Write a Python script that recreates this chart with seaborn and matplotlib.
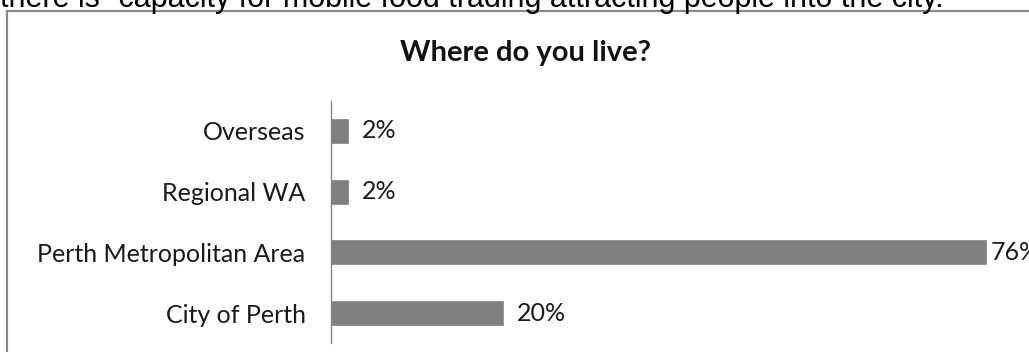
import matplotlib
matplotlib.use("Agg")
import matplotlib.pyplot as plt
from matplotlib.lines import Line2D
import seaborn as sns
import pandas as pd

# Survey responses: place of residence
categories = ["Overseas", "Regional WA", "Perth Metropolitan Area", "City of Perth"]
percentages = [2, 2, 76, 20]
title = "Where do you live?"
caption = "there is \u201ccapacity for mobile food trading attracting people into the city."

df = pd.DataFrame({"place": categories, "pct": percentages})

sns.set_theme(style="white")
plt.rcParams["font.family"] = ["Lato", "DejaVu Sans"]

W, H, DPI = 1029, 352, 100
fig = plt.figure(figsize=(W / DPI, H / DPI), dpi=DPI)
fig.patch.set_facecolor("white")

left_px, right_px = 330.5, 1029
top_px, bottom_px = 100.6, 343.4
ax = fig.add_axes([left_px / W, 1 - bottom_px / H,
                   (right_px - left_px) / W, (bottom_px - top_px) / H])

sns.barplot(data=df, x="pct", y="place", order=categories, orient="h",
            color="#808080", width=0.4, edgecolor="#8c8c8c", linewidth=0.6,
            saturation=1, ax=ax)

px_per_unit = 8.62
ax.set_xlim(0, (right_px - left_px) / px_per_unit)
ax.set_xlabel("")
ax.set_ylabel("")
ax.set_xticks([])
ax.tick_params(axis="y", length=0, pad=18, labelsize=18, labelcolor="#1a1a1a")
for s in ["top", "right", "bottom"]:
    ax.spines[s].set_visible(False)
ax.spines["left"].set_color("#868686")
ax.spines["left"].set_linewidth(1.0)

# value labels at the end of each bar
for i, v in enumerate(percentages):
    end_px = v * px_per_unit
    pad = 5 if end_px > 600 else 14
    ax.annotate(f"{v}%", xy=(v, i), xytext=(pad * 0.72, 0), textcoords="offset points",
                ha="left", va="center", fontsize=18, color="#1a1a1a",
                annotation_clip=False)

# chart title
fig.text(525 / W, 1 - 53 / H, title, ha="center", va="center",
         fontsize=21, fontweight="bold", color="#111111")

# chart frame (left and top edges)
fig.add_artist(Line2D([7 / W, 7 / W], [0, 1 - 11 / H], transform=fig.transFigure,
                      color="#8a8a8a", linewidth=1.6))
fig.add_artist(Line2D([7 / W, 1], [1 - 11 / H, 1 - 11 / H], transform=fig.transFigure,
                      color="#8a8a8a", linewidth=1.6))

# preceding line of body text
fig.text(0 / W, 1 - 7 / H, caption, ha="left", va="baseline",
         fontsize=22, family=["Liberation Sans", "DejaVu Sans"], color="#000000")

fig.savefig("out.png", dpi=DPI, facecolor="white")
